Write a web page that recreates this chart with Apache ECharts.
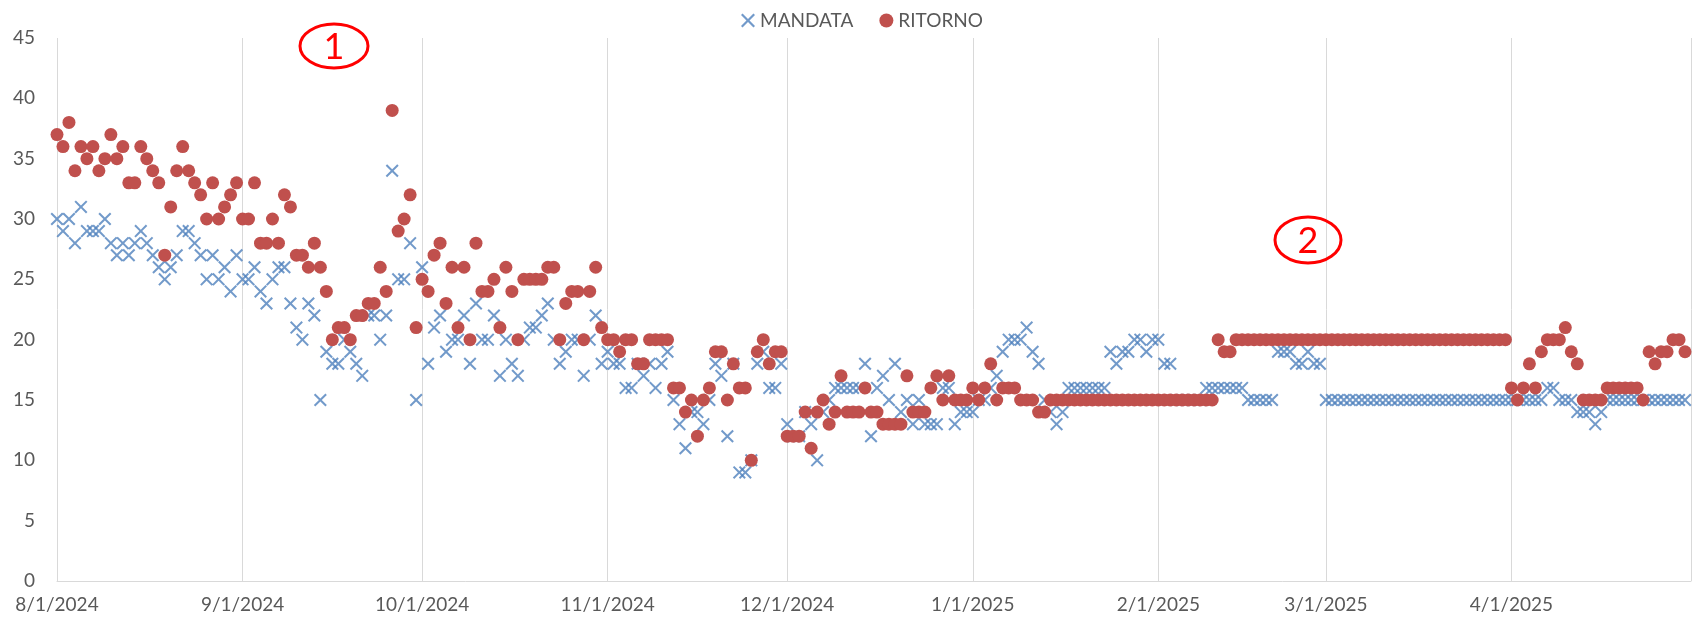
<!DOCTYPE html>
<html>
<head>
<meta charset="utf-8">
<script src="https://cdn.jsdelivr.net/npm/echarts@6/dist/echarts.min.js"></script>
<style>
html,body{margin:0;padding:0;background:#fff;}
#chart{width:1700px;height:626px;}
</style>
</head>
<body>
<div id="chart"></div>
<script>
// Date range of the category axis (one category per day, last one = 5/1/2025 with no data)
const startDate = [2024, 8, 1];
const endDate = [2025, 5, 1];

const yTicks = [0, 5, 10, 15, 20, 25, 30, 35, 40, 45];

// MANDATA, daily values from 8/1/2024 to 4/30/2025
const mandata = [
  30,29,30,28,31,29,29,29,30,28,27,28,27,28,29,28,27,26,25,26,27,29,29,
  28,27,25,27,25,26,24,27,25,25,26,24,23,25,26,26,23,21,20,23,22,15,19,
  18,18,20,19,18,17,22,22,20,22,
  34,25,25,28,15,26,18,21,22,19,20,20,22,
  18,23,20,20,22,17,20,18,17,20,21,21,22,23,20,18,19,20,20,17,20,22,18,
  19,18,18,16,16,18,17,18,16,18,19,15,13,11,14,14,13,15,18,17,12,18,9,9,10,18,19,16,16,18,
  13,12,12,14,13,10,14,15,16,16,16,16,16,18,12,
  16,17,15,18,14,15,13,15,13,13,13,16,16,13,14,14,
  14,15,15,16,17,19,20,20,20,21,19,18,15,14,
  13,14,16,16,16,16,16,16,16,
  19,18,19,19,20,20,19,20,20,18,18,
  15,15,15,15,15,
  16,16,16,16,16,16,16,
  15,15,15,15,15,
  19,19,19,18,18,19,18,18,
  15,15,15,15,15,15,15,15,15,15,15,15,15,15,15,15,15,15,15,15,15,15,15,15,15,15,15,15,15,15,15,15,15,15,15,15,15,
  16,16,
  15,15,15,
  14,14,14,13,14,
  15,15,15,15,15,15,15,15,15,15,15,15,15,15
];

// RITORNO, daily values from 8/1/2024 to 4/30/2025
const ritorno = [
  37,36,38,34,36,35,36,34,35,37,35,36,33,33,36,35,34,33,27,31,34,36,34,33,
  32,30,33,30,31,32,33,30,30,33,28,28,30,28,32,31,27,27,26,28,26,24,
  20,21,21,20,22,22,23,23,26,24,39,29,30,32,21,25,24,27,28,23,26,21,26,20,
  28,24,24,25,21,26,24,20,25,25,25,25,26,26,20,23,24,24,20,24,26,21,
  20,20,19,20,20,18,18,20,20,20,20,16,16,14,15,12,15,16,19,19,15,18,16,16,10,19,20,18,19,19,
  12,12,12,14,11,14,15,13,14,17,14,14,14,16,14,
  14,13,13,13,13,17,14,14,14,16,17,15,17,15,15,15,
  16,15,16,18,15,16,16,16,15,15,15,14,14,
  15,15,15,15,15,15,15,15,15,15,15,15,15,15,15,15,15,15,15,15,15,15,15,15,15,15,15,15,
  20,19,19,
  20,20,20,20,20,20,20,20,20,20,20,20,20,20,20,20,20,20,20,20,20,20,20,
  20,20,20,20,20,20,20,20,20,20,20,20,20,20,20,20,20,20,20,20,20,20,20,
  16,15,16,18,16,19,20,20,20,21,
  19,18,15,15,15,15,16,16,16,16,16,16,15,19,18,19,19,20,20,19
];

// Build daily category labels (M/D/YYYY)
const categories = [];
{
  let t = Date.UTC(startDate[0], startDate[1] - 1, startDate[2]);
  const tEnd = Date.UTC(endDate[0], endDate[1] - 1, endDate[2]);
  while (t <= tEnd) {
    const d = new Date(t);
    categories.push((d.getUTCMonth() + 1) + '/' + d.getUTCDate() + '/' + d.getUTCFullYear());
    t += 86400000;
  }
}
const isMonthStart = (i) => categories[i] && categories[i].split('/')[1] === '1';

const xPath = 'path://M0,1.1 L1.1,0 L5,3.9 L8.9,0 L10,1.1 L6.1,5 L10,8.9 L8.9,10 L5,6.1 L1.1,10 L0,8.9 L3.9,5 Z';
const FONT = 'Lato, "Liberation Sans", sans-serif';
const BLUE = '#4F81BD';
const RED = '#C0504D';

const chart = echarts.init(document.getElementById('chart'), null, {renderer: 'canvas'});
chart.setOption({
  animation: false,
  backgroundColor: '#ffffff',
  textStyle: {fontFamily: FONT},
  legend: {
    top: 6,
    left: 736,
    itemGap: 26,
    itemWidth: 14,
    itemHeight: 14,
    textStyle: {fontSize: 19, color: '#595959', fontFamily: FONT},
    data: [
      {name: 'MANDATA', icon: xPath},
      {name: 'RITORNO', icon: 'circle'}
    ]
  },
  grid: {left: 57, right: 9, top: 38, bottom: 45, containLabel: false},
  xAxis: {
    type: 'category',
    data: categories,
    boundaryGap: false,
    axisLine: {show: true, lineStyle: {color: '#d9d9d9', width: 1}},
    axisTick: {show: false},
    axisLabel: {
      interval: (i) => isMonthStart(i) && i < categories.length - 1,
      color: '#595959',
      fontSize: 19,
      fontFamily: FONT,
      margin: 14
    },
    splitLine: {
      show: true,
      interval: (i) => isMonthStart(i),
      lineStyle: {color: '#d9d9d9', width: 1}
    }
  },
  yAxis: {
    type: 'value',
    min: yTicks[0],
    max: yTicks[yTicks.length - 1],
    interval: yTicks[1] - yTicks[0],
    axisLine: {show: false},
    axisTick: {show: false},
    splitLine: {show: false},
    axisLabel: {color: '#595959', fontSize: 19, fontFamily: FONT, margin: 22}
  },
  series: [
    {
      name: 'MANDATA',
      type: 'scatter',
      symbol: xPath,
      symbolSize: 13,
      itemStyle: {color: BLUE},
      z: 2,
      data: mandata.map((v, i) => [i, v])
    },
    {
      name: 'RITORNO',
      type: 'scatter',
      symbol: 'circle',
      symbolSize: 13,
      itemStyle: {color: RED, opacity: 1},
      z: 3,
      data: ritorno.map((v, i) => [i, v])
    }
  ],
  graphic: [
    {type: 'ellipse', shape: {cx: 334, cy: 46, rx: 34, ry: 22}, style: {fill: 'none', stroke: '#FF0000', lineWidth: 3}, z: 10},
    {type: 'text', x: 334, y: 47, style: {text: '1', fill: '#FF0000', fontSize: 36, fontFamily: FONT, align: 'center', verticalAlign: 'middle', textAlign: 'center', textVerticalAlign: 'middle'}, z: 10},
    {type: 'ellipse', shape: {cx: 1308, cy: 240, rx: 33, ry: 23}, style: {fill: 'none', stroke: '#FF0000', lineWidth: 3}, z: 10},
    {type: 'text', x: 1308, y: 241, style: {text: '2', fill: '#FF0000', fontSize: 36, fontFamily: FONT, align: 'center', verticalAlign: 'middle', textAlign: 'center', textVerticalAlign: 'middle'}, z: 10}
  ]
});
</script>
</body>
</html>
